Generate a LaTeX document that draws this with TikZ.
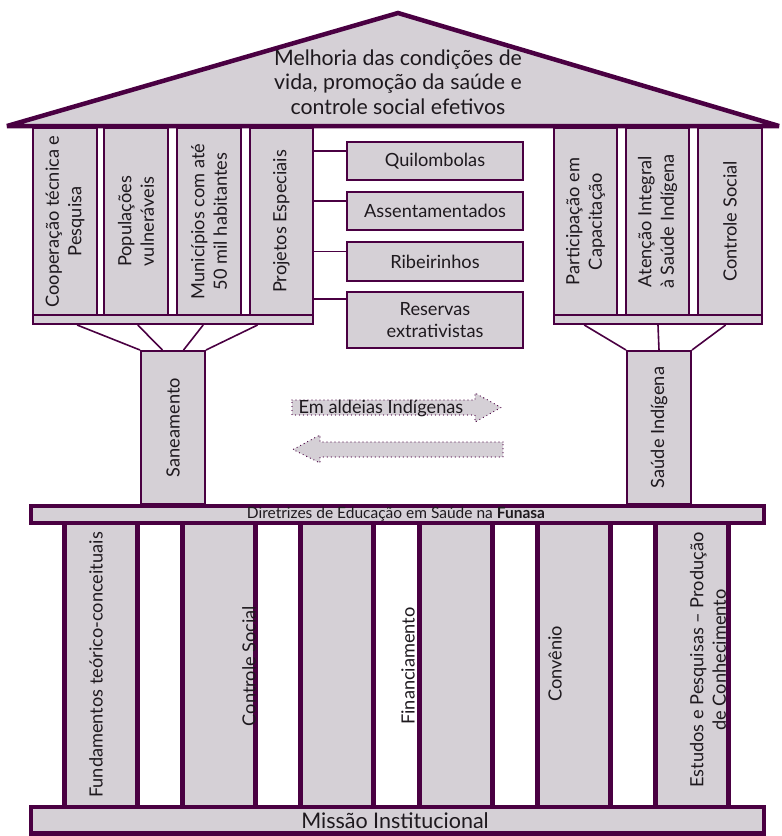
\documentclass[tikz,border=0pt]{standalone}
\usepackage{fontspec}
\setmainfont{Lato}
\usetikzlibrary{fit,calc}
\definecolor{pp}{RGB}{74,0,66}
\definecolor{gf}{RGB}{213,208,214}
\definecolor{tx}{RGB}{30,25,30}
\begin{document}
\begin{tikzpicture}[x=1pt,y=-1pt,
  col/.style={draw=pp,fill=gf,line width=2pt,inner sep=0pt},
  sub/.style={draw=pp,fill=gf,line width=2.6pt,inner sep=0pt},
  thk/.style={draw=pp,fill=gf,line width=4.5pt,inner sep=0pt},
  lcol/.style={draw=pp,fill=gf,line width=5pt,inner sep=0pt},
  lbl/.style={text=tx,font=\fontsize{18.2}{22.5}\selectfont,align=center,inner sep=0pt},
  vlbl/.style={lbl,rotate=90},
  conn/.style={draw=pp,line width=1.6pt},
  dotarrow/.style={fill=gf,draw=pp,line width=1.3pt,dash pattern=on 0pt off 4pt,line cap=round},
]
\useasboundingbox (0,0) rectangle (782,836);
% roof
\path[draw=pp,fill=gf,line width=4.5pt,line join=miter,miter limit=3] (7,126) -- (398,13) -- (779,126) -- cycle;
\node[lbl,font=\fontsize{21.3}{24.5}\selectfont] (roof) at (398,82) {Melhoria das condições de\\vida, promoção da saúde e\\controle social efetivos};

% upper left columns
\node[col,fit={(33,128)(97,315)}] (c1) {};
\node[col,fit={(104,128)(168,315)}] (c2) {};
\node[col,fit={(177,128)(241,315)}] (c3) {};
\node[col,fit={(250,128)(313,315)}] (c4) {};
\node[col,fit={(33,315)(313,324)}] (ulbar) {};
\node[vlbl] at (c1.center) {Cooperação técnica e\\Pesquisa};
\node[vlbl] at (c2.center) {Populações\\vulneráveis};
\node[vlbl] at (c3.center) {Municípios com até\\50 mil habitantes};
\node[vlbl] at (c4.center) {Projetos Especiais};

% upper right columns
\node[col,fit={(554,128)(617,315)}] (r1) {};
\node[col,fit={(626,128)(689,315)}] (r2) {};
\node[col,fit={(698,128)(762,315)}] (r3) {};
\node[col,fit={(554,315)(762,324)}] (urbar) {};
\node[vlbl] at (r1.center) {Participação em\\Capacitação};
\node[vlbl] at (r2.center) {Atenção Integral\\à Saúde Indígena};
\node[vlbl] at (r3.center) {Controle Social};

% sub boxes
\node[sub,fit={(347,142)(523,180)}] (q) {};
\node[lbl] at (q.center) {Quilombolas};
\node[sub,fit={(347,192)(523,230)}] (a) {};
\node[lbl] at (a.center) {Assentamentados};
\node[sub,fit={(347,242)(523,281)}] (rb) {};
\node[lbl] at (rb.center) {Ribeirinhos};
\node[sub,fit={(347,292)(523,348)}] (re) {};
\node[lbl] at (re.center) {Reservas\\extrativistas};
\foreach \b in {q,a,rb} {
  \coordinate (\b c) at ($(\b.west)+(0,-10)$);
  \draw[conn] (c4.east |- \b c) -- (\b c);
}
\coordinate (rec) at ($(re.north west)+(0,8)$);
\draw[conn] (c4.east |- rec) -- (rec);

% saneamento / saude indigena
\node[col,fit={(141,351)(205,504)}] (san) {};
\node[vlbl] at (san.center) {Saneamento};
\node[col,fit={(627,351)(691,504)}] (sai) {};
\node[vlbl] at (sai.center) {Saúde Indígena};
\draw[conn] ($(ulbar.south west)!0.16!(ulbar.south east)$) -- (san.north west);
\draw[conn] ($(ulbar.south west)!0.375!(ulbar.south east)$) -- ($(san.north west)!0.34!(san.north east)$);
\draw[conn] ($(ulbar.south west)!0.607!(ulbar.south east)$) -- ($(san.north west)!0.66!(san.north east)$);
\draw[conn] ($(ulbar.south west)!0.8!(ulbar.south east)$) -- (san.north east);
\draw[conn] ($(urbar.south west)!0.149!(urbar.south east)$) -- (sai.north west);
\draw[conn] (urbar.south) -- (sai.north);
\draw[conn] ($(urbar.south west)!0.822!(urbar.south east)$) -- (sai.north east);

% arrows
\path[dotarrow] (292,400) -- (475,400) -- (475,393) -- (501,407.5) -- (475,422) -- (475,415) -- (292,415) -- cycle;
\node[lbl] (ald) at (381,408) {Em aldeias Indígenas};
\path[dotarrow] (503,442) -- (320,442) -- (320,435) -- (293,449.5) -- (320,463) -- (320,457) -- (503,457) -- cycle;

% lower columns
\foreach \i/\n in {0/l1,1/l2,2/l3,3/l4,4/l5,5/l6} {
  \pgfmathsetmacro{\xa}{64.5+118.2*\i}
  \pgfmathsetmacro{\xb}{137.5+118.2*\i}
  \node[lcol,fit={(\xa,522)(\xb,807)}] (\n) {};
}
\node[vlbl] at (96,665) {Fundamentos teórico-conceituais};
\node[vlbl] at (249,666) {Controle Social};
\node[vlbl] at (408,666) {Financiamento};
\node[vlbl] at (555,664) {Convênio};
\node[vlbl] at (708,660) {Estudos e Pesquisas -- Produção\\de Conhecimento};

% bars
\node[thk,fit={(31.2,506)(763.8,522.8)}] (dir) {};
\node[lbl,font=\fontsize{15.5}{17}\selectfont] at (396,514) {Diretrizes de Educação em Saúde na \textbf{Funasa}};
\node[thk,fit={(31.2,807)(763.8,833.6)}] (mis) {};
\node[lbl,font=\fontsize{21.5}{24}\selectfont] at (395,821) {Missão Institucional};
\end{tikzpicture}
\end{document}
